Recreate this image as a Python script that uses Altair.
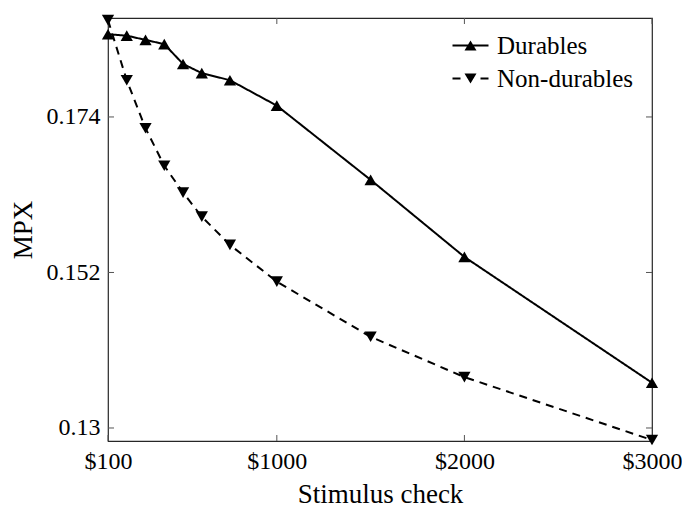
import altair as alt
import pandas as pd

checks = [100, 200, 300, 400, 500, 600, 750, 1000, 1500, 2000, 3000]
durables = [0.1857, 0.1855, 0.1849, 0.1843, 0.1815, 0.1802, 0.1792, 0.1756, 0.1651, 0.1542, 0.1364]
nondurables = [0.1877, 0.1792, 0.1724, 0.1671, 0.1633, 0.1599, 0.1559, 0.1507, 0.1429, 0.1372, 0.1283]
series = ["Durables", "Non-durables"]
x_ticks = [100, 1000, 2000, 3000]
y_ticks = [0.13, 0.152, 0.174]

rows = []
for c, d, n in zip(checks, durables, nondurables):
    rows.append({"check": c, "mpx": d, "series": series[0]})
    rows.append({"check": c, "mpx": n, "series": series[1]})
df = pd.DataFrame(rows)

W, H = 544, 423
FONT = "Liberation Serif"
FRAME = "#262626"
TICK = "#555555"

xscale = alt.Scale(domain=[100, 3000], nice=False, zero=False)
yscale = alt.Scale(domain=[0.12816, 0.188], nice=False, zero=False)

x_enc = alt.X("check:Q", scale=xscale,
              axis=alt.Axis(values=x_ticks, labelExpr="'$' + datum.value", title="Stimulus check",
                            ticks=False, domain=False, grid=False, labelPadding=8, titlePadding=8,
                            labelFlush=False))
y_enc = alt.Y("mpx:Q", scale=yscale,
              axis=alt.Axis(values=y_ticks, format=".3~f", title="MPX", ticks=False, domain=False,
                            grid=False, labelPadding=8, titlePadding=9, labelFlush=False))

base = alt.Chart(df)

lines = base.mark_line(strokeWidth=2, color="black").encode(
    x=x_enc, y=y_enc,
    detail="series:N",
    strokeDash=alt.StrokeDash("series:N", scale=alt.Scale(domain=series, range=[[1, 0], [8, 6]]), legend=None),
)

points = base.mark_point(filled=True, color="black", opacity=1, size=150).encode(
    x="check:Q", y="mpx:Q",
    shape=alt.Shape("series:N", scale=alt.Scale(domain=series, range=["triangle-up", "triangle-down"]), legend=None),
)

leg_paths = [
    "M-1.8,-0.1H1.8V0.1H-1.8Z M-0.6,0.5L0,-0.5L0.6,0.5Z",
    "M-1.8,-0.1H-1V0.1H-1.8Z M1,-0.1H1.8V0.1H1Z M-0.6,-0.5L0.6,-0.5L0,0.5Z",
]
legend_layer = base.transform_filter("datum.check < 0").mark_point(filled=True, color="black").encode(
    x="check:Q", y="mpx:Q",
    shape=alt.Shape("series:N", scale=alt.Scale(domain=series, range=leg_paths),
                    legend=alt.Legend(title=None, orient="none", legendX=350, legendY=15,
                                      symbolSize=400, symbolFillColor="black", symbolStrokeWidth=0,
                                      symbolOpacity=1, labelFont=FONT, labelFontSize=25,
                                      labelColor="black", labelOffset=14, rowPadding=7, padding=0)),
)

tick_len = 6
yt = pd.DataFrame({"v": y_ticks})
xt = pd.DataFrame({"v": x_ticks})
yl = alt.Chart(yt).mark_rule(color=TICK, strokeWidth=1).encode(
    y=alt.Y("v:Q", scale=yscale), x=alt.value(0), x2=alt.value(tick_len))
yr = alt.Chart(yt).mark_rule(color=TICK, strokeWidth=1).encode(
    y=alt.Y("v:Q", scale=yscale), x=alt.value(W - tick_len), x2=alt.value(W))
xb = alt.Chart(xt).mark_rule(color=TICK, strokeWidth=1).encode(
    x=alt.X("v:Q", scale=xscale), y=alt.value(H), y2=alt.value(H - tick_len))
xtp = alt.Chart(xt).mark_rule(color=TICK, strokeWidth=1).encode(
    x=alt.X("v:Q", scale=xscale), y=alt.value(0), y2=alt.value(tick_len))

chart = alt.layer(yl, yr, xb, xtp, lines, points, legend_layer).resolve_scale(
    shape="independent").resolve_legend(shape="independent").properties(
    width=W, height=H,
    autosize=alt.AutoSizeParams(type="none"),
    padding={"left": 100, "top": 10, "right": 30, "bottom": 66},
    background="white",
).configure_view(stroke=FRAME, strokeWidth=1.2).configure_axis(
    labelFont=FONT, labelFontSize=24, labelColor="black",
    titleFont=FONT, titleFontSize=27, titleColor="black", titleFontWeight="normal",
)

chart.save("out.html", embed_options={"renderer": "svg", "actions": False})
